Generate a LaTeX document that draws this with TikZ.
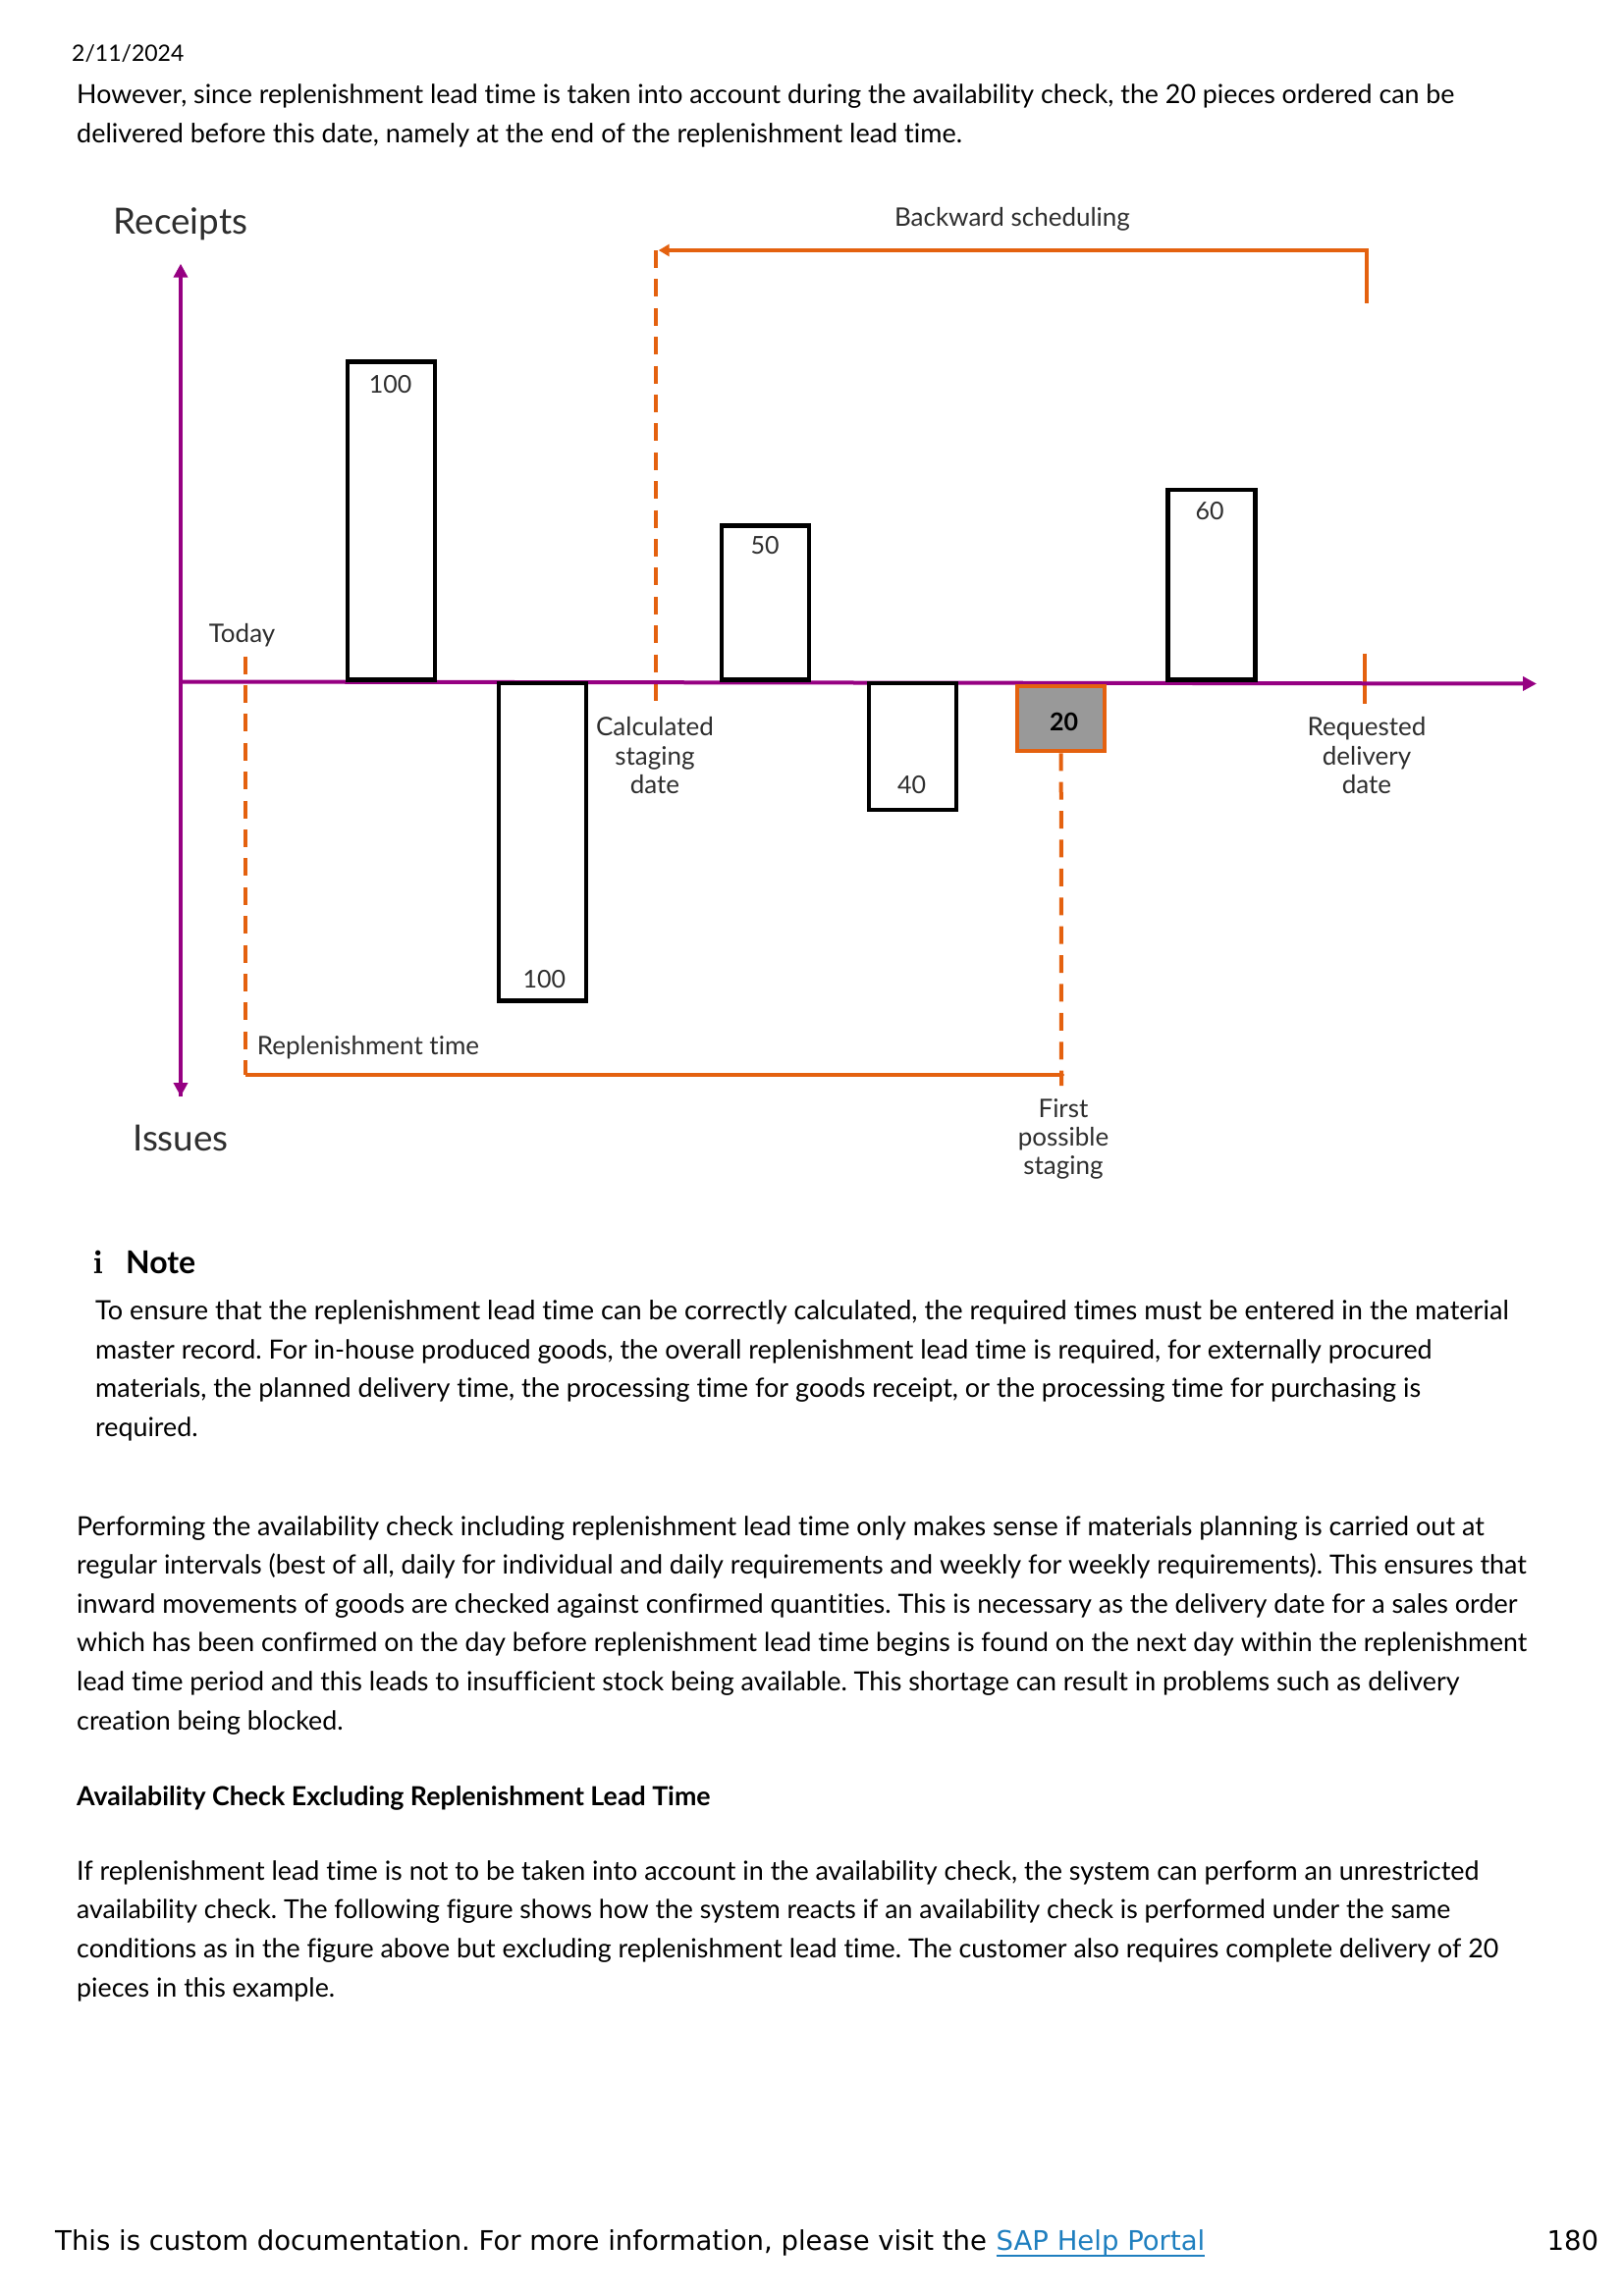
\documentclass[tikz,border=0pt]{standalone}
\usepackage{fontspec}
\setmainfont{Lato}[Ligatures=NoCommon]
\newfontfamily\footfont{DejaVu Sans}
\usetikzlibrary{arrows.meta}
\definecolor{axispurple}{HTML}{960082}
\definecolor{markorange}{HTML}{E4610F}
\definecolor{linkblue}{HTML}{1F7FBF}
\definecolor{labelgray}{HTML}{2E2E2E}
\frenchspacing
\tikzset{
  axisline/.style={draw=axispurple, line width=4pt, -{Triangle[length=14pt,width=14pt]}},
  markline/.style={draw=markorange, line width=4pt},
  markdash/.style={markline, dash pattern=on 18pt off 11.4pt},
  bar/.style={draw=black, line width=4.5pt, inner sep=0pt, minimum width=89pt},
  chartlabel/.style={font=\fontsize{26}{29.4}\selectfont, text=labelgray, inner sep=0pt, anchor=base},
  barnumber/.style={font=\fontsize{25}{29.4}\selectfont, text=labelgray, inner sep=0pt, anchor=base},
  bigaxis/.style={font=\fontsize{36.8}{40}\selectfont, text=labelgray, inner sep=0pt, anchor=base},
  bodyline/.style={font=\fontsize{26.8}{32}\selectfont, inner sep=0pt, anchor=base west},
  bodysize/.style={font=\fontsize{#1}{32}\selectfont},
  footline/.style={font=\footfont\fontsize{27.5}{34}\selectfont, inner sep=0pt, anchor=base west}
}
\begin{document}
\begin{tikzpicture}[x=1pt,y=-1pt]
\useasboundingbox (0,0) rectangle (1653,2339);
%Page text, top
\node[bodyline, font=\fontsize{23}{28}\selectfont] (pagedate) at (73,62.5) {2/11/2024};
\node[bodyline] (top1) at (78,106) {However, since replenishment lead time is taken into account during the availability check, the 20 pieces ordered can be};
\node[bodyline, bodysize=27] (top2) at (78,145.5) {delivered before this date, namely at the end of the replenishment lead time.};
%Free ends
\coordinate (ytop) at (184,268.6);
\coordinate (ybottom) at (184,1117);
\coordinate (xleft) at (184,694.5);
\coordinate (xright) at (1565,696.5);
\coordinate (todaytop) at (250,668.6);
\coordinate (todaycorner) at (250,1095);
\coordinate (firstcorner) at (1084,1095);
\coordinate (firstend) at (1081,1106);
\coordinate (calcbottom) at (667.6,713.6);
\coordinate (calctop) at (667.6,255);
\coordinate (backend) at (670.7,255);
\coordinate (backcorner) at (1392,255);
\coordinate (backstart) at (1392,308.6);
\coordinate (reqtop) at (1390,665.7);
\coordinate (reqbottom) at (1390,717);
%Orange lines
\draw[markdash] (todaytop) -- (todaycorner);
\draw[markdash] (calctop) -- (calcbottom);
\draw[markline] (reqtop) -- (reqbottom);
\draw[markline, -{Triangle[length=11pt,width=12pt]}] (backstart) -- (backcorner) -- (backend);
\draw[markline, -{Triangle[length=3pt,width=7pt]}] (todaycorner) -- (firstcorner);
%Axes
\draw[axisline] (ybottom) -- (ytop);
\draw[axisline] (ybottom |- xleft) -- (ybottom);
\draw[axisline] (xleft) -- (xright);
%Bars
\node[bar, minimum height=324pt] (up100) at (398.5,530.5) {};
\node[bar, minimum height=323.5pt] (down100) at (552.7,857.7) {};
\node[bar, minimum height=157pt] (up50) at (779.7,614) {};
\node[bar, minimum height=129pt] (down40) at (929.7,760.5) {};
\node[bar, minimum height=193.5pt] (up60) at (1233.8,595.7) {};
\node[bar, draw=markorange, fill=black!40, minimum height=66pt] (open20) at (1080.7,732) {};
\draw[markdash] (open20.south) -- (firstend);
%Chart labels
\node[bigaxis] (receipts) at (184,238) {Receipts};
\node[bigaxis] (issues) at (184,1172) {Issues};
\node[chartlabel] (backlabel) at (1031,230.5) {Backward scheduling};
\node[chartlabel] (todaylabel) at (246.5,654) {Today};
\node[chartlabel] (replabel) at (375,1074) {Replenishment time};
\node[barnumber] (up100text) at (397.6,400) {100};
\node[barnumber] (down100text) at (554.4,1006.5) {100};
\node[barnumber] (up50text) at (779,564) {50};
\node[barnumber] (down40text) at (928.5,808) {40};
\node[barnumber] (up60text) at (1232,529) {60};
\node[barnumber, text=black, font=\fontsize{25}{29.4}\bfseries\selectfont] (open20text) at (1083.5,744) {20};
\node[chartlabel, align=center, anchor=north] (calclabel) at (667,730.5) {Calculated\\staging\\date};
\node[chartlabel, align=center, anchor=north] (reqlabel) at (1392,730.5) {Requested\\delivery\\date};
\node[chartlabel, align=center, anchor=north] (firstlabel) at (1083,1119) {First\\possible\\staging};
%Note
\node[bodyline, font=\fontfamily{lmr}\bfseries\fontsize{34}{40}\selectfont] (noteicon) at (95,1297) {i};
\node[bodyline, font=\fontsize{32}{36}\bfseries\selectfont] (notehead) at (128,1297) {Note};
\node[bodyline, bodysize=27.1] (note1) at (97,1344.5) {To ensure that the replenishment lead time can be correctly calculated, the required times must be entered in the material};
\node[bodyline, bodysize=26.9] (note2) at (97,1384) {master record. For in-house produced goods, the overall replenishment lead time is required, for externally procured};
\node[bodyline, bodysize=27] (note3) at (97,1423) {materials, the planned delivery time, the processing time for goods receipt, or the processing time for purchasing is};
\node[bodyline] (note4) at (97,1463) {required.};
%Page text, bottom
\node[bodyline, bodysize=26.93] (para1) at (78,1564) {Performing the availability check including replenishment lead time only makes sense if materials planning is carried out at};
\node[bodyline, bodysize=26.9] (para2) at (78,1603.5) {regular intervals (best of all, daily for individual and daily requirements and weekly for weekly requirements). This ensures that};
\node[bodyline, bodysize=26.96] (para3) at (78,1643) {inward movements of goods are checked against confirmed quantities. This is necessary as the delivery date for a sales order};
\node[bodyline, bodysize=26.64] (para4) at (78,1682.5) {which has been confirmed on the day before replenishment lead time begins is found on the next day within the replenishment};
\node[bodyline, bodysize=26.88] (para5) at (78,1722) {lead time period and this leads to insufficient stock being available. This shortage can result in problems such as delivery};
\node[bodyline] (para6) at (78,1762) {creation being blocked.};
\node[bodyline, font=\fontsize{26.75}{32}\bfseries\selectfont] (subhead) at (78,1839) {Availability Check Excluding Replenishment Lead Time};
\node[bodyline, bodysize=26.9] (last1) at (78,1915.5) {If replenishment lead time is not to be taken into account in the availability check, the system can perform an unrestricted};
\node[bodyline, bodysize=26.66] (last2) at (78,1954.5) {availability check. The following figure shows how the system reacts if an availability check is performed under the same};
\node[bodyline] (last3) at (78,1994.5) {conditions as in the figure above but excluding replenishment lead time. The customer also requires complete delivery of 20};
\node[bodyline] (last4) at (78,2034.5) {pieces in this example.};
%Footer
\node[footline] (foottext) at (56,2292.5) {This is custom documentation. For more information, please visit the};
\node[footline, text=linkblue] (footlink) at (1014.5,2292.5) {SAP Help Portal};
\node[footline] (footpage) at (1575.5,2292.5) {180};
\draw[linkblue, line width=2pt] ([yshift=-5.5pt]footlink.base west) -- ([yshift=-5.5pt]footlink.base east);
\end{tikzpicture}
\end{document}
